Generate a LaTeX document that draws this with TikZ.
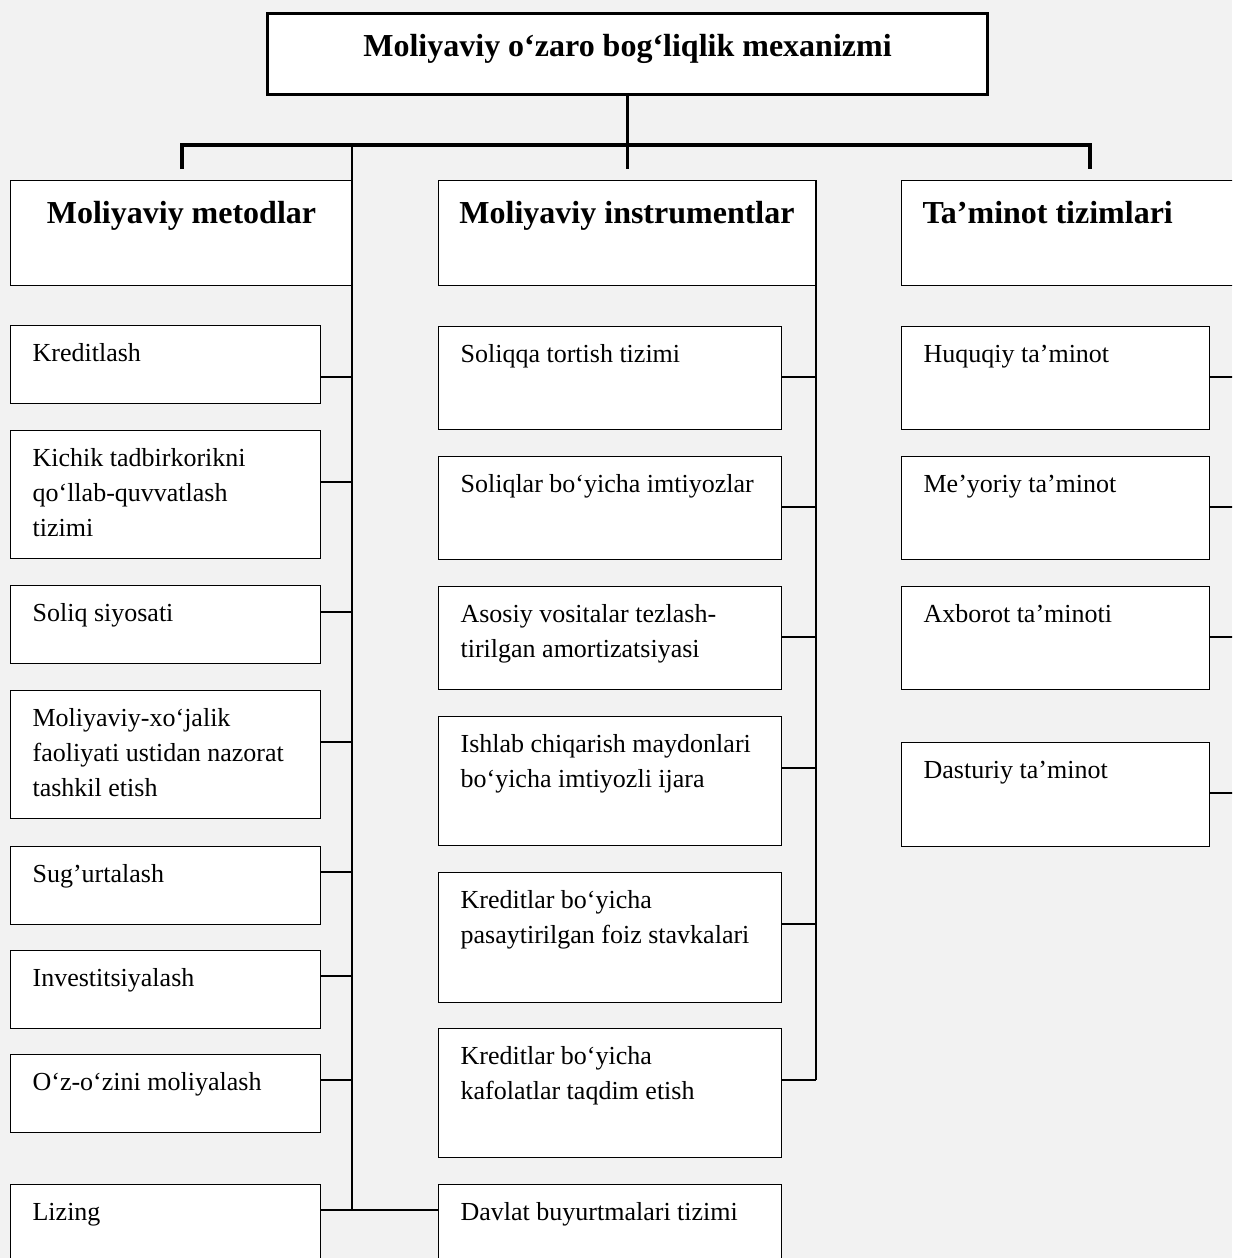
\documentclass[tikz,border=0pt]{standalone}
\usepackage{fontspec}
\setmainfont{Liberation Serif}
\usepackage{tikz}
\usetikzlibrary{calc}

\definecolor{paper}{RGB}{242,242,242}
\newcommand{\headfont}{\fontsize{16pt}{19pt}\selectfont\bfseries}
\newcommand{\itemfont}{\fontsize{13pt}{17.5pt}\selectfont}
\newcommand{\itemtext}[3]{\parbox[c][#2][t]{#1}{\raggedright\rule{0pt}{18pt}#3}}
\newcommand{\headtext}[4][\centering]{\parbox[c][#3][t]{#2}{#1\rule{0pt}{21.5pt}#4}}

\begin{document}
\begin{tikzpicture}[x=0.5pt,y=-0.5pt,
    title/.style={draw=black,line width=1.5pt,fill=white,anchor=north west,inner sep=0pt,font=\headfont},
    head/.style={draw=black,line width=0.5pt,fill=white,anchor=north west,inner sep=0pt,font=\headfont},
    item/.style={draw=black,line width=0.6pt,fill=white,anchor=north west,inner xsep=11pt,inner ysep=0pt,font=\itemfont},
    bar/.style={line width=1.6pt},
    link/.style={line width=0.7pt}]
    \useasboundingbox (0,0) rectangle (1232,1258);
    \fill[paper] (0,0) rectangle (1232,1258);
    \clip (0,0) rectangle (1232,1258);
    \coordinate (BarL) at (182,145);
    \coordinate (BarR) at (1090,145);
    \coordinate (TickEnd) at (0,169);
    \coordinate (TrunkL) at (352,145);
    \coordinate (EdgeR) at (1240,0);

    \node[title] (Title) at (266,12) {\headtext{360pt}{40.5pt}{Moliyaviy o‘zaro bog‘liqlik mexanizmi}};
    \node[head] (HeadM) at (10,180) {\headtext{171pt}{52.5pt}{Moliyaviy metodlar}};
    \node[head] (HeadI) at (438,180) {\headtext{188.5pt}{52.5pt}{Moliyaviy instrumentlar}};
    \node[head] (HeadT) at (901,180) {\headtext[\raggedright\hspace*{10.5pt}]{180pt}{52.5pt}{Ta’minot tizimlari}};

    % metodlar
    \node[item] (Kred) at (10,325) {\itemtext{133pt}{39pt}{Kreditlash}};
    \node[item] (Kichik) at (10,430) {\itemtext{133pt}{64pt}{Kichik tadbirkorikni\\qo‘llab-quvvatlash\\tizimi}};
    \node[item] (Siyosat) at (10,585) {\itemtext{133pt}{39pt}{Soliq siyosati}};
    \node[item] (Nazorat) at (10,690) {\itemtext{133pt}{64pt}{Moliyaviy-xo‘jalik\\faoliyati ustidan nazorat\\tashkil etish}};
    \node[item] (Sugurta) at (10,846) {\itemtext{133pt}{39pt}{Sug’urtalash}};
    \node[item] (Invest) at (10,950) {\itemtext{133pt}{39pt}{Investitsiyalash}};
    \node[item] (Ozini) at (10,1054) {\itemtext{133pt}{39pt}{O‘z-o‘zini moliyalash}};
    \node[item] (Lizing) at (10,1184) {\itemtext{133pt}{50pt}{Lizing}};

    % instrumentlar
    \node[item] (Soliqqa) at (438,326) {\itemtext{149.5pt}{51.5pt}{Soliqqa tortish tizimi}};
    \node[item] (Imtiyoz) at (438,456) {\itemtext{149.5pt}{51.5pt}{Soliqlar bo‘yicha imtiyozlar}};
    \node[item] (Amort) at (438,586) {\itemtext{149.5pt}{51.5pt}{Asosiy vositalar tezlash-\\tirilgan amortizatsiyasi}};
    \node[item] (Ijara) at (438,716) {\itemtext{149.5pt}{64.5pt}{Ishlab chiqarish maydonlari\\bo‘yicha imtiyozli ijara}};
    \node[item] (Stavka) at (438,872) {\itemtext{149.5pt}{65pt}{Kreditlar bo‘yicha\\pasaytirilgan foiz stavkalari}};
    \node[item] (Kafolat) at (438,1028) {\itemtext{149.5pt}{64.5pt}{Kreditlar bo‘yicha\\kafolatlar taqdim etish}};
    \node[item] (Davlat) at (438,1184) {\itemtext{149.5pt}{50pt}{Davlat buyurtmalari tizimi}};

    % ta'minot
    \node[item] (Huquq) at (901,326) {\itemtext{132pt}{51.5pt}{Huquqiy ta’minot}};
    \node[item] (Meyor) at (901,456) {\itemtext{132pt}{51.5pt}{Me’yoriy ta’minot}};
    \node[item] (Axborot) at (901,586) {\itemtext{132pt}{51.5pt}{Axborot ta’minoti}};
    \node[item] (Dastur) at (901,742) {\itemtext{132pt}{52pt}{Dasturiy ta’minot}};

    % top bar
    \draw[bar] (BarL |- TickEnd) -- (BarL) -- (BarR) -- (BarR |- TickEnd);
    \draw[bar] (Title.south) -- (Title.south |- TickEnd);

    % trunks
    \draw[link] (TrunkL) -- ($(Lizing.north east -| TrunkL)+(0,26)$);
    \draw[link] (HeadI.north east) -- ($(Kafolat.north east -| HeadI.east)+(0,52)$);

    \draw[link] ($(Kred.north east)+(0,52)$) -- ($(Kred.north east -| TrunkL)+(0,52)$);
    \draw[link] ($(Kichik.north east)+(0,52)$) -- ($(Kichik.north east -| TrunkL)+(0,52)$);
    \draw[link] ($(Siyosat.north east)+(0,27)$) -- ($(Siyosat.north east -| TrunkL)+(0,27)$);
    \draw[link] ($(Nazorat.north east)+(0,52)$) -- ($(Nazorat.north east -| TrunkL)+(0,52)$);
    \draw[link] ($(Sugurta.north east)+(0,26)$) -- ($(Sugurta.north east -| TrunkL)+(0,26)$);
    \draw[link] ($(Invest.north east)+(0,26)$) -- ($(Invest.north east -| TrunkL)+(0,26)$);
    \draw[link] ($(Ozini.north east)+(0,26)$) -- ($(Ozini.north east -| TrunkL)+(0,26)$);
    \draw[link] ($(Lizing.north east)+(0,26)$) -- ($(Davlat.north west)+(0,26)$);

    \draw[link] ($(Soliqqa.north east)+(0,51)$) -- ($(Soliqqa.north east -| HeadI.east)+(0,51)$);
    \draw[link] ($(Imtiyoz.north east)+(0,51)$) -- ($(Imtiyoz.north east -| HeadI.east)+(0,51)$);
    \draw[link] ($(Amort.north east)+(0,51)$) -- ($(Amort.north east -| HeadI.east)+(0,51)$);
    \draw[link] ($(Ijara.north east)+(0,52)$) -- ($(Ijara.north east -| HeadI.east)+(0,52)$);
    \draw[link] ($(Stavka.north east)+(0,52)$) -- ($(Stavka.north east -| HeadI.east)+(0,52)$);
    \draw[link] ($(Kafolat.north east)+(0,52)$) -- ($(Kafolat.north east -| HeadI.east)+(0,52)$);

    \draw[link] ($(Huquq.north east)+(0,51)$) -- ($(Huquq.north east -| EdgeR)+(0,51)$);
    \draw[link] ($(Meyor.north east)+(0,51)$) -- ($(Meyor.north east -| EdgeR)+(0,51)$);
    \draw[link] ($(Axborot.north east)+(0,51)$) -- ($(Axborot.north east -| EdgeR)+(0,51)$);
    \draw[link] ($(Dastur.north east)+(0,51)$) -- ($(Dastur.north east -| EdgeR)+(0,51)$);
\end{tikzpicture}
\end{document}
